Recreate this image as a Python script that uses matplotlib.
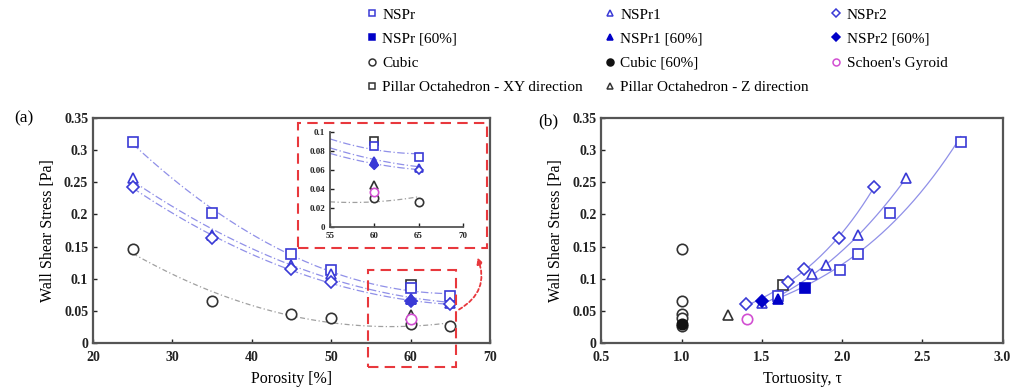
import numpy as np
import matplotlib
matplotlib.use("Agg")
import matplotlib.pyplot as plt
from matplotlib.lines import Line2D
from matplotlib.patches import Rectangle

plt.rcParams['font.family'] = ['Liberation Serif', 'DejaVu Serif']
plt.rcParams['mathtext.fontset'] = 'stix'

# ---------------- data ----------------
porosity = [25, 35, 45, 50, 60, 65]
nspr_wss = [0.313, 0.202, 0.138, 0.113, 0.085, 0.073]
nspr1_wss = [0.256, 0.168, 0.122, 0.107, 0.069, 0.062]
nspr2_wss = [0.243, 0.163, 0.115, 0.095, 0.065, 0.060]
cubic_wss = [0.146, 0.065, 0.045, 0.039, 0.030, 0.026]

nspr_tort = [2.74, 2.30, 2.10, 1.99, 1.77, 1.60]
nspr1_tort = [2.40, 2.10, 1.90, 1.81, 1.60, 1.50]
nspr2_tort = [2.20, 1.98, 1.76, 1.66, 1.50, 1.40]
cubic_tort = [1.0, 1.0, 1.0, 1.0, 1.0, 1.0]

pillar_xy_por, pillar_xy_tort, pillar_xy_wss = 60, 1.63, 0.090
pillar_z_por, pillar_z_tort, pillar_z_wss = 60, 1.29, 0.044
gyroid_por, gyroid_tort, gyroid_wss = 60, 1.41, 0.037

legend_labels = ["NSPr", "NSPr1", "NSPr2",
                 "NSPr [60%]", "NSPr1 [60%]", "NSPr2 [60%]",
                 "Cubic", "Cubic [60%]", "Schoen's Gyroid",
                 "Pillar Octahedron - XY direction", "Pillar Octahedron - Z direction"]

# ---------------- styles ----------------
BLUE = '#3a3ad6'
DBLUE = '#0000c8'
LBLUE = '#9090e8'
GREY = '#333333'
LGREY = '#a0a0a0'
MAG = '#d24fd2'
RED = '#e8383d'
ms = 7.5
i60 = porosity.index(60)

fig = plt.figure(figsize=(10.21, 3.90), dpi=100)
ax_a = fig.add_axes([0.0911, 0.1205, 0.3888, 0.5769])
ax_b = fig.add_axes([0.5891, 0.1205, 0.3928, 0.5769])
ax_in = fig.add_axes([0.3232, 0.4187, 0.1303, 0.2436])


def style_axis(ax, lw=1.6, fs=10, xpad=6):
    for s in ax.spines.values():
        s.set_color('#555555')
        s.set_linewidth(lw)
    ax.tick_params(direction='in', length=3, width=1, colors='#222222', labelsize=fs)
    ax.tick_params(axis='x', pad=xpad)
    for lab in ax.get_xticklabels() + ax.get_yticklabels():
        lab.set_fontweight('bold')


def open_mk(ax, x, y, m, c, size=ms, **kw):
    ax.plot(x, y, linestyle='none', marker=m, markersize=size, markerfacecolor='white',
            markeredgecolor=c, markeredgewidth=1.2, **kw)


def fill_mk(ax, x, y, m, c, size=ms, **kw):
    ax.plot(x, y, linestyle='none', marker=m, markersize=size, markerfacecolor=c,
            markeredgecolor=c, markeredgewidth=1.2, **kw)


# quadratic trend lines in porosity
def quad_line(ax, x, y, c, ls, x0, x1):
    p = np.polyfit(x, y, 2)
    xx = np.linspace(x0, x1, 200)
    ax.plot(xx, np.polyval(p, xx), color=c, lw=0.9, ls=ls)


def exp_line(ax, x, y, c):
    p = np.polyfit(x, np.log(y), 2)
    xx = np.linspace(min(x), max(x), 200)
    ax.plot(xx, np.exp(np.polyval(p, xx)), color=c, lw=0.9)


# ---------------- panel (a) ----------------
for ax, xlo in ((ax_a, 25), (ax_in, 55)):
    quad_line(ax, porosity, nspr_wss, LBLUE, (0, (6, 2, 1, 2)), xlo, 65)
    quad_line(ax, porosity, nspr1_wss, LBLUE, (0, (6, 2, 1, 2)), xlo, 65)
    quad_line(ax, porosity, nspr2_wss, LBLUE, (0, (6, 2, 1, 2)), xlo, 65)
    quad_line(ax, porosity, cubic_wss, LGREY, (0, (4, 2, 1, 2)), xlo, 65)
    size = ms if ax is ax_a else 6
    open_mk(ax, porosity, cubic_wss, 'o', GREY, size)
    open_mk(ax, pillar_z_por, pillar_z_wss, '^', GREY, size)
    open_mk(ax, gyroid_por, gyroid_wss, 'o', MAG, size)
    open_mk(ax, pillar_xy_por, pillar_xy_wss, 's', GREY, size)
    open_mk(ax, porosity, nspr_wss, 's', BLUE, size)
    open_mk(ax, porosity, nspr1_wss, '^', BLUE, size)
    open_mk(ax, porosity, nspr2_wss, 'D', BLUE, size - 1.5)
    fill_mk(ax, porosity[i60], nspr1_wss[i60], '^', BLUE, size - 1)
    fill_mk(ax, porosity[i60], nspr2_wss[i60], 'D', BLUE, size - 2.5)

ax_a.set_xlim(20, 70)
ax_a.set_ylim(0, 0.35)
ax_a.set_xticks([20, 30, 40, 50, 60, 70])
ax_a.set_yticks([0, 0.05, 0.1, 0.15, 0.2, 0.25, 0.3, 0.35])
ax_a.set_yticklabels(['0', '0.05', '0.1', '0.15', '0.2', '0.25', '0.3', '0.35'])
style_axis(ax_a)
ax_a.set_xlabel('Porosity [%]', fontsize=11.5, labelpad=5)
ax_a.set_ylabel('Wall Shear Stress [Pa]', fontsize=11.5, labelpad=6)

ax_in.set_xlim(55, 70)
ax_in.set_ylim(0, 0.1)
ax_in.set_xticks([55, 60, 65, 70])
ax_in.set_yticks([0, 0.02, 0.04, 0.06, 0.08, 0.1])
ax_in.set_yticklabels(['0', '0.02', '0.04', '0.06', '0.08', '0.1'])
ax_in.spines['top'].set_visible(False)
ax_in.spines['right'].set_visible(False)
ax_in.patch.set_alpha(0)
style_axis(ax_in, lw=1.3, fs=6.5, xpad=4)

# red dashed boxes and arrow
ax_a.add_patch(Rectangle((54.6, -0.037), 11.1, 0.151, fill=False, ec=RED, lw=1.5,
                         ls=(0, (5, 3)), clip_on=False, zorder=5))
ax_a.add_patch(Rectangle((45.8, 0.148), 23.8, 0.1947, fill=False, ec=RED, lw=1.5,
                         ls=(0, (5, 3)), clip_on=False, zorder=5))
ax_a.annotate('', xy=(68.3, 0.137), xytext=(65.8, 0.05),
              arrowprops=dict(arrowstyle='-|>', color=RED, lw=1.3, ls=(0, (2, 1.5)),
                              connectionstyle='arc3,rad=0.45', mutation_scale=9),
              annotation_clip=False)

# ---------------- panel (b) ----------------
exp_line(ax_b, nspr_tort, nspr_wss, LBLUE)
exp_line(ax_b, nspr1_tort, nspr1_wss, LBLUE)
exp_line(ax_b, nspr2_tort, nspr2_wss, LBLUE)
others = [i for i in range(len(porosity)) if i != i60]
open_mk(ax_b, [cubic_tort[i] for i in others], [cubic_wss[i] for i in others], 'o', GREY)
fill_mk(ax_b, cubic_tort[i60], cubic_wss[i60], 'o', '#111111')
open_mk(ax_b, pillar_z_tort, pillar_z_wss, '^', GREY)
open_mk(ax_b, gyroid_tort, gyroid_wss, 'o', MAG)
open_mk(ax_b, pillar_xy_tort, pillar_xy_wss, 's', GREY)
open_mk(ax_b, [nspr_tort[i] for i in others], [nspr_wss[i] for i in others], 's', BLUE)
open_mk(ax_b, [nspr1_tort[i] for i in others], [nspr1_wss[i] for i in others], '^', BLUE)
open_mk(ax_b, [nspr2_tort[i] for i in others], [nspr2_wss[i] for i in others], 'D', BLUE, ms - 1.5)
fill_mk(ax_b, nspr_tort[i60], nspr_wss[i60], 's', DBLUE)
fill_mk(ax_b, nspr1_tort[i60], nspr1_wss[i60], '^', DBLUE)
fill_mk(ax_b, nspr2_tort[i60], nspr2_wss[i60], 'D', DBLUE, ms - 1.5)

ax_b.set_xlim(0.5, 3.0)
ax_b.set_ylim(0, 0.35)
ax_b.set_xticks([0.5, 1.0, 1.5, 2.0, 2.5, 3.0])
ax_b.set_xticklabels(['0.5', '1.0', '1.5', '2.0', '2.5', '3.0'])
ax_b.set_yticks([0, 0.05, 0.1, 0.15, 0.2, 0.25, 0.3, 0.35])
ax_b.set_yticklabels(['0', '0.05', '0.1', '0.15', '0.2', '0.25', '0.3', '0.35'])
style_axis(ax_b)
ax_b.set_xlabel('Tortuosity, τ', fontsize=11.5, labelpad=5)
ax_b.set_ylabel('Wall Shear Stress [Pa]', fontsize=11.5, labelpad=6)

fig.text(0.014, 0.685, '(a)', fontsize=12.5)
fig.text(0.527, 0.678, '(b)', fontsize=12.5)

# ---------------- legend ----------------
def h(m, c, filled=False, size=5):
    return Line2D([], [], linestyle='none', marker=m, markersize=size,
                  markerfacecolor=c if filled else 'white', markeredgecolor=c,
                  markeredgewidth=1.1)

handles_rowwise = [h('s', BLUE), h('^', BLUE), h('D', BLUE, size=4),
                   h('s', DBLUE, True), h('^', DBLUE, True), h('D', DBLUE, True, 4),
                   h('o', GREY), h('o', '#111111', True), h('o', MAG),
                   h('s', GREY), h('^', GREY)]
ncol = 3
order = []
for c in range(ncol):
    for r in range(4):
        k = r * ncol + c
        if k < len(handles_rowwise):
            order.append(k)
leg = fig.legend([handles_rowwise[k] for k in order], [legend_labels[k] for k in order],
                 ncol=ncol, loc='upper left', bbox_to_anchor=(0.352, 0.995), frameon=False,
                 fontsize=11, handlelength=0.8, handletextpad=0.3, columnspacing=1.35,
                 labelspacing=0.68, borderaxespad=0)

fig.savefig('out.png', dpi=100)
